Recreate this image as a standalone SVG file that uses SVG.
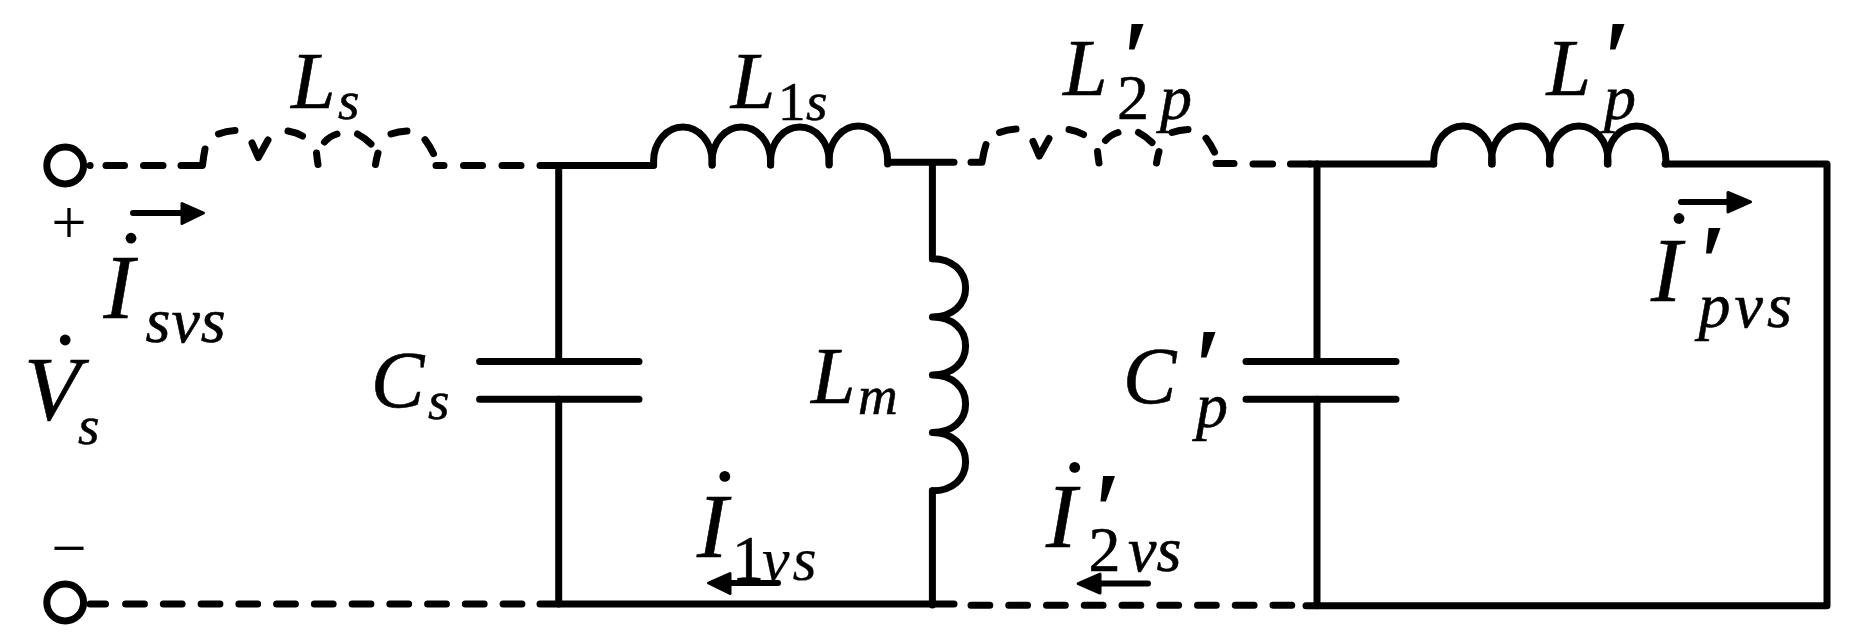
<svg xmlns="http://www.w3.org/2000/svg" width="1865" height="644" viewBox="0 0 1865 644" font-family="'Liberation Serif','Times New Roman',serif">
<style>
.w{fill:none;stroke:#000;stroke-width:7;stroke-linecap:round;stroke-linejoin:round}
.t{stroke-width:6}
.d{stroke-dasharray:18.8 18.95}
.a{fill:#000;stroke:#000;stroke-width:3;stroke-linejoin:round}
text{fill:#000;font-style:italic;stroke:#000;stroke-width:.6}
.b{font-size:80px}.bb{font-size:92px}.sub{font-size:55px}.sb{font-size:64px}
.r{font-style:normal}.pr{font-size:100px;stroke-width:2}.sg{font-size:62px;stroke-width:.2}
</style>
<defs>
<path id="hump" d="M0 0v-4a29.25 34 0 0 1 58.5 0v4"/>
<g id="dashcoil">
<path d="M218.5 134Q226 131 235 130.5"/>
<path d="M252 143L258.3 157.5L268 140"/>
<path d="M288 131Q296 132.4 302.5 136"/>
<path d="M316.5 153Q317 158 318 164.5"/>
<path d="M324.5 142Q330 136 337 134"/>
<path d="M357.5 134Q365 138 371 144"/>
<path d="M378 153Q376.5 158 375.5 164.5"/>
<path d="M391 134Q398 131.4 407 130.9"/>
<path d="M425 139.7Q430 146.4 433.5 153.7"/>
</g>
</defs>
<g id="connectors" class="w">
<path d="M90 165.5h.1M106 165.5H124.5M143.5 165.5H163M181 165.5H202.5Q203.5 156 205 149"/>
<use href="#dashcoil"/>
<path d="M436 165.5H444M463.5 165.5H482.5M502 165.5H521"/>
<path d="M540 165.5H653.5"/>
<path d="M889 162.2H954M932.4 162.2V258.7M932.4 490.8V605"/>
<path d="M971 162.2H982Q983.5 152 986 144.5"/>
<use href="#dashcoil" transform="translate(781 -1.5)"/>
<path d="M1216 163.6H1234M1253 163.9H1272.6M1290.4 163.9H1310"/>
<path d="M1310 163.9H1433.7M1665 163.9H1827V605.7H1306"/>
<path d="M1317 361.4V163.9M1317 399.2V605.7"/>
<path d="M558.7 165.5V361.4M558.7 399.2V604.1"/>
<path d="M90 604.1H105.5"/>
<path class="d" d="M125.6 604.1H528"/>
<path d="M540 604.1H954"/>
<path class="d" d="M971 605.2H1296"/>
</g>
<g id="terminal-top"><circle class="w" cx="65.2" cy="165.5" r="18.4"/></g>
<g id="terminal-bottom"><circle class="w" cx="65.2" cy="602.5" r="18.4"/></g>
<g id="Ls"><text class="b" x="291" y="107.6">L</text><text class="sub" x="338" y="119.4">s</text></g>
<g id="L1s">
<g class="w"><use href="#hump" x="653.6" y="165"/><use href="#hump" x="712.1" y="165"/><use href="#hump" x="770.6" y="165"/><use href="#hump" x="829.1" y="164"/></g>
<text class="b" x="730.7" y="107.6">L</text><text class="sub r" x="778" y="119.9">1</text><text class="sub" x="806" y="119.9">s</text>
</g>
<g id="L2p"><text class="b" x="1063" y="95.2">L</text><text class="sb r" x="1117" y="118.5">2</text><text class="sb" x="1160" y="119" font-size="66">p</text><text class="pr" x="1119" y="90">′</text></g>
<g id="Lp">
<g class="w"><use href="#hump" x="1433.7" y="163.9"/><use href="#hump" x="1491.6" y="163.9"/><use href="#hump" x="1549.5" y="163.9"/><use href="#hump" x="1607.4" y="163.9"/></g>
<text class="b" x="1546.4" y="95.2">L</text><text class="sb" x="1604" y="119" font-size="66">p</text><text class="pr" x="1600" y="90">′</text>
</g>
<g id="Cs">
<path class="w" d="M479.6 361.4H639M479.6 399.2H639"/>
<text class="b" x="371" y="407">C</text><text class="sub" x="428" y="418.9">s</text>
</g>
<g id="Lm">
<path class="w" d="M932.4 258.7C952 258.7 965.6 271 965.6 288S952 317 932.4 317C952 317 965.6 329 965.6 346S952 375 932.4 375C952 375 965.6 387 965.6 404S952 432.5 932.4 432.5C952 432.5 965.6 445 965.6 462S952 490.8 932.4 490.8"/>
<text class="b" x="811" y="402.5">L</text><text class="sub" x="858" y="414">m</text>
</g>
<g id="Cp">
<path class="w" d="M1246 361.4H1396M1246 399.2H1396"/>
<text class="b" x="1123" y="402.5">C</text><text class="sb" x="1196" y="427" font-size="66">p</text><text class="pr" x="1191" y="398">′</text>
</g>
<g id="source">
<text x="69" y="242.5" text-anchor="middle" class="r sg">+</text>
<text x="69" y="568.5" text-anchor="middle" class="r sg">−</text>
<circle cx="65.2" cy="340" r="5.4"/>
<text class="bb" x="24" y="419.7">V</text><text class="sub" x="78" y="443.5">s</text>
</g>
<g id="Isvs">
<path class="w t" d="M133 213H184"/><path class="a" d="M182 203.5L203.5 213L182 223.5Z"/>
<circle cx="131" cy="238.2" r="5.4"/>
<text class="bb" x="103.5" y="317.5">I</text><text class="sb" x="145.5" y="342" letter-spacing="1">svs</text>
</g>
<g id="I1vs">
<path class="w t" d="M728 583H778"/><path class="a" d="M730 573.5L708.5 583L730 593.5Z"/>
<circle cx="724.8" cy="476.4" r="5.4"/>
<text class="bb" x="697" y="556.5">I</text><text class="sb r" x="732" y="580">1</text><text class="sg" x="762" y="580" letter-spacing="3">vs</text>
</g>
<g id="I2vs">
<path class="w t" d="M1098 583.6H1148"/><path class="a" d="M1100 574L1078.2 583.6L1100 593Z"/>
<circle cx="1074.7" cy="467.4" r="5.4"/>
<text class="bb" x="1046" y="547.4">I</text><text class="sb r" x="1088.6" y="570.8">2</text><text class="sb" x="1128" y="570.8">vs</text><text class="pr" x="1090.5" y="542">′</text>
</g>
<g id="Ipvs">
<path class="w t" d="M1681 202H1730"/><path class="a" d="M1728 192.5L1750.5 202L1728 212Z"/>
<circle cx="1679" cy="218.5" r="5.4"/>
<text class="bb" x="1651" y="300.6">I</text><text class="sb" x="1698.6" y="326.5" letter-spacing="4">pvs</text><text class="pr" x="1696" y="294">′</text>
</g>
</svg>
